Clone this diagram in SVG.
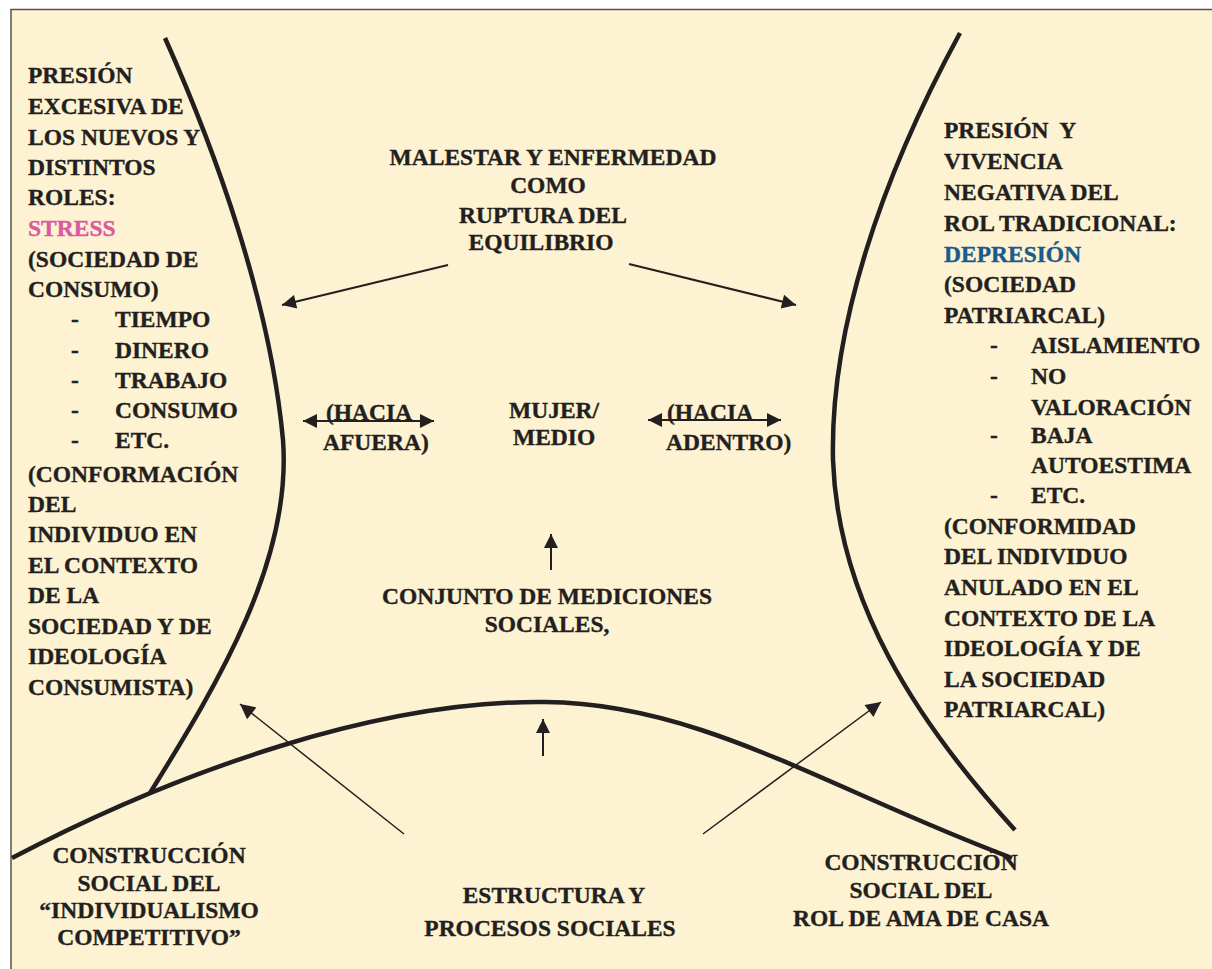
<svg xmlns="http://www.w3.org/2000/svg" width="1212" height="969" viewBox="0 0 1212 969">
<style>
text{font-family:"Liberation Serif","Times New Roman",serif;font-weight:bold;font-size:23.5px;fill:#231f20;stroke:#231f20;stroke-width:0.35}
.c{text-anchor:middle}
.curve{fill:none;stroke:#231f20;stroke-width:4.5;stroke-linecap:butt}
.thin{fill:none;stroke:#231f20;stroke-width:1.5}
.med{fill:none;stroke:#231f20;stroke-width:2}
</style>
<defs>
<marker id="ah" viewBox="0 0 10 10" refX="10" refY="5" markerUnits="userSpaceOnUse" markerWidth="18" markerHeight="14" orient="auto"><path d="M0,0L10,5L0,10z" fill="#231f20"/></marker>
<marker id="ahs" viewBox="0 0 10 10" refX="0" refY="5" markerUnits="userSpaceOnUse" markerWidth="18" markerHeight="14" orient="auto"><path d="M10,0L0,5L10,10z" fill="#231f20"/></marker>
<marker id="ahb" viewBox="0 0 10 10" refX="10" refY="5" markerUnits="userSpaceOnUse" markerWidth="21" markerHeight="15" orient="auto"><path d="M0,0L10,5L0,10z" fill="#231f20"/></marker>
</defs>
<rect x="0" y="0" width="1212" height="969" fill="#ffffff"/>
<rect x="11" y="9.5" width="1212" height="970" fill="#fdf2d1" stroke="#555049" stroke-width="1.5"/>

<g id="curves">
<path class="curve" d="M165,38 C215,150 270,300 283,440 C292,560 220,680 150,793"/>
<path class="curve" d="M12,858 C180,770 380,700 545,702 C700,703 830,790 1012,858"/>
<path class="curve" d="M960,33 C880,180 830,330 833,460 C838,600 915,720 1015,830"/>
</g>

<g id="connectors">
<line class="med" x1="448" y1="265" x2="282" y2="305" marker-end="url(#ah)"/>
<line class="med" x1="629" y1="264" x2="796" y2="305" marker-end="url(#ah)"/>
<line class="med" x1="303" y1="421" x2="434" y2="421" marker-start="url(#ahs)" marker-end="url(#ah)"/>
<line class="med" x1="648" y1="420" x2="781" y2="420" marker-start="url(#ahs)" marker-end="url(#ah)"/>
<line class="med" x1="551" y1="570" x2="551" y2="534" marker-end="url(#ah)"/>
<line class="med" x1="543" y1="756" x2="543" y2="719" marker-end="url(#ah)"/>
<line class="thin" x1="404" y1="834" x2="240" y2="704" marker-end="url(#ahb)"/>
<line class="thin" x1="703" y1="834" x2="881" y2="702" marker-end="url(#ahb)"/>
</g>

<g id="left-text">
<text x="28" y="83">PRESIÓN</text>
<text x="28" y="114">EXCESIVA DE</text>
<text x="28" y="145">LOS NUEVOS Y</text>
<text x="28" y="175">DISTINTOS</text>
<text x="28" y="205">ROLES:</text>
<text x="28" y="236" style="fill:#d959a2;stroke:#d959a2">STRESS</text>
<text x="28" y="267">(SOCIEDAD DE</text>
<text x="28" y="297">CONSUMO)</text>
<text x="71" y="327">-</text><text x="115" y="327">TIEMPO</text>
<text x="71" y="358">-</text><text x="115" y="358">DINERO</text>
<text x="71" y="388">-</text><text x="115" y="388">TRABAJO</text>
<text x="71" y="418">-</text><text x="115" y="418">CONSUMO</text>
<text x="71" y="448">-</text><text x="115" y="448">ETC.</text>
<text x="28" y="482">(CONFORMACIÓN</text>
<text x="28" y="512">DEL</text>
<text x="28" y="542">INDIVIDUO EN</text>
<text x="28" y="573">EL CONTEXTO</text>
<text x="28" y="603">DE LA</text>
<text x="28" y="634">SOCIEDAD Y DE</text>
<text x="28" y="664">IDEOLOGÍA</text>
<text x="28" y="695">CONSUMISTA)</text>
</g>

<g id="right-text">
<text x="944" y="138" xml:space="preserve">PRESIÓN  Y</text>
<text x="944" y="169">VIVENCIA</text>
<text x="944" y="200">NEGATIVA DEL</text>
<text x="944" y="231">ROL TRADICIONAL:</text>
<text x="944" y="262" style="fill:#1b5a8e;stroke:#1b5a8e">DEPRESIÓN</text>
<text x="944" y="292">(SOCIEDAD</text>
<text x="944" y="323">PATRIARCAL)</text>
<text x="990" y="353">-</text><text x="1031" y="353">AISLAMIENTO</text>
<text x="990" y="384">-</text><text x="1031" y="384">NO</text>
<text x="1031" y="415">VALORACIÓN</text>
<text x="990" y="443">-</text><text x="1031" y="443">BAJA</text>
<text x="1031" y="473">AUTOESTIMA</text>
<text x="990" y="503">-</text><text x="1031" y="503">ETC.</text>
<text x="944" y="534">(CONFORMIDAD</text>
<text x="944" y="564">DEL INDIVIDUO</text>
<text x="944" y="595">ANULADO EN EL</text>
<text x="944" y="626">CONTEXTO DE LA</text>
<text x="944" y="656">IDEOLOGÍA Y DE</text>
<text x="944" y="687">LA SOCIEDAD</text>
<text x="944" y="717">PATRIARCAL)</text>
</g>

<g id="top-center">
<text class="c" x="553" y="165">MALESTAR Y ENFERMEDAD</text>
<text class="c" x="548" y="193">COMO</text>
<text class="c" x="543" y="223">RUPTURA DEL</text>
<text class="c" x="541" y="250">EQUILIBRIO</text>
</g>

<g id="center">
<text x="509" y="418">MUJER/</text>
<text x="513" y="445">MEDIO</text>
</g>
<g id="hacia-afuera">
<text x="326" y="420">(HACIA</text>
<text x="323" y="450">AFUERA)</text>
</g>
<g id="hacia-adentro">
<text x="667" y="420">(HACIA</text>
<text x="666" y="450">ADENTRO)</text>
</g>

<g id="mediciones">
<text class="c" x="547" y="604">CONJUNTO DE MEDICIONES</text>
<text class="c" x="547" y="632">SOCIALES,</text>
</g>

<g id="estructura">
<text class="c" x="554" y="903">ESTRUCTURA Y</text>
<text class="c" x="550" y="936">PROCESOS SOCIALES</text>
</g>

<g id="individualismo">
<text class="c" x="149" y="863">CONSTRUCCIÓN</text>
<text class="c" x="149" y="891">SOCIAL DEL</text>
<text class="c" x="149" y="918">“INDIVIDUALISMO</text>
<text class="c" x="149" y="945">COMPETITIVO”</text>
</g>

<g id="ama-de-casa">
<text class="c" x="921" y="870">CONSTRUCCIÓN</text>
<text class="c" x="921" y="898">SOCIAL DEL</text>
<text class="c" x="921" y="926">ROL DE AMA DE CASA</text>
</g>
</svg>
